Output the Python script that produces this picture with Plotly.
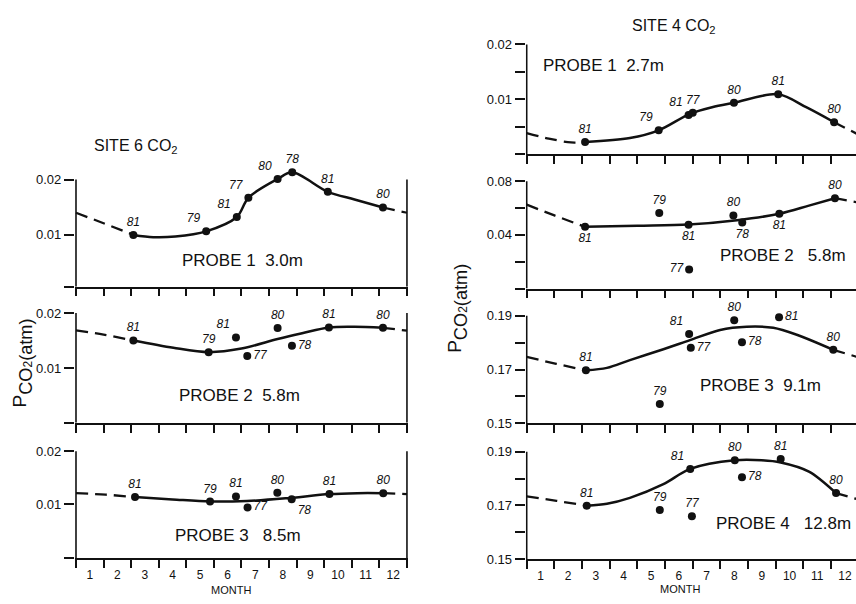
import plotly.graph_objects as go

W, H = 856, 604
FONT = "Liberation Sans, Arial, Helvetica, sans-serif"
INK = "#111111"

MONTH_LABELS = [str(m) for m in range(1, 13)]
MONTH_MID = [m - 0.5 for m in range(1, 13)]
MONTH_EDGE = list(range(13))

# ---------------- SITE 6 ----------------
S6_P1_X = [2.08, 4.72, 5.83, 6.25, 7.31, 7.84, 9.13, 11.13]
S6_P1_Y = [0.0100, 0.01064, 0.01323, 0.01671, 0.0201, 0.0213, 0.01778, 0.01495]
S6_P1_YR = ["81", "79", "81", "77", "80", "78", "81", "80"]
S6_P1_FIT_X = [2.08, 2.8, 3.6, 4.72, 5.83, 6.25, 7.31, 7.84, 9.13, 10.1, 11.13]
S6_P1_FIT_Y = [0.0100, 0.00958, 0.0097, 0.01064, 0.01323, 0.01671, 0.0201, 0.0213, 0.01778, 0.0164, 0.01495]
S6_P1_EXL_X = [0, 1.0, 2.08]
S6_P1_EXL_Y = [0.0140, 0.0121, 0.0100]
S6_P1_EXR_X = [11.13, 12]
S6_P1_EXR_Y = [0.01495, 0.0140]

S6_P2_X = [2.08, 4.81, 5.80, 6.21, 7.31, 7.83, 9.17, 11.13]
S6_P2_Y = [0.01506, 0.01294, 0.01559, 0.01224, 0.01728, 0.01411, 0.01740, 0.01734]
S6_P2_YR = ["81", "79", "81", "77", "80", "78", "81", "80"]
S6_P2_FIT_X = [2.08, 3.53, 4.81, 6.0, 7.31, 8.2, 9.17, 10.1, 11.13]
S6_P2_FIT_Y = [0.01506, 0.01374, 0.01294, 0.01358, 0.0153, 0.01635, 0.0174, 0.01752, 0.01734]
S6_P2_EXL_X = [0, 1.0, 2.08]
S6_P2_EXL_Y = [0.01688, 0.0161, 0.01506]
S6_P2_EXR_X = [11.13, 12]
S6_P2_EXR_Y = [0.01734, 0.01682]

S6_P3_X = [2.14, 4.86, 5.80, 6.22, 7.30, 7.82, 9.19, 11.14]
S6_P3_Y = [0.01134, 0.0105, 0.01147, 0.00939, 0.01215, 0.01092, 0.0119, 0.01208]
S6_P3_YR = ["81", "79", "81", "77", "80", "78", "81", "80"]
S6_P3_FIT_X = [2.14, 3.5, 4.86, 6.2, 7.6, 9.19, 10.2, 11.14]
S6_P3_FIT_Y = [0.01134, 0.0109, 0.0105, 0.0106, 0.0111, 0.0119, 0.01208, 0.01208]
S6_P3_EXL_X = [0, 1.07, 2.14]
S6_P3_EXL_Y = [0.01208, 0.0118, 0.01134]
S6_P3_EXR_X = [11.14, 12]
S6_P3_EXR_Y = [0.01208, 0.0119]

# ---------------- SITE 4 ----------------
S4_P1_X = [2.11, 4.77, 5.85, 6.0, 7.49, 9.09, 11.11]
S4_P1_Y = [0.00227, 0.0044, 0.0072, 0.0076, 0.00941, 0.01095, 0.00587]
S4_P1_YR = ["81", "79", "81", "77", "80", "81", "80"]
S4_P1_FIT_X = [2.11, 3.73, 4.77, 5.9, 6.7, 7.49, 9.09, 10.1, 11.11]
S4_P1_FIT_Y = [0.00227, 0.0030, 0.0044, 0.0074, 0.0086, 0.00941, 0.01095, 0.0086, 0.00587]
S4_P1_EXL_X = [0, 0.8, 1.6, 2.11]
S4_P1_EXL_Y = [0.0039, 0.0029, 0.0022, 0.00227]
S4_P1_EXR_X = [11.11, 12]
S4_P1_EXR_Y = [0.00587, 0.0036]

S4_P2_X = [2.11, 4.79, 5.85, 5.87, 7.47, 7.79, 9.13, 11.14]
S4_P2_Y = [0.046, 0.0562, 0.0475, 0.0143, 0.0545, 0.0492, 0.0557, 0.0673]
S4_P2_YR = ["81", "79", "81", "77", "80", "78", "81", "80"]
S4_P2_FIT_X = [2.11, 4.0, 5.85, 7.6, 9.13, 10.2, 11.14]
S4_P2_FIT_Y = [0.046, 0.0468, 0.0477, 0.0509, 0.0557, 0.0618, 0.0673]
S4_P2_EXL_X = [0, 1.0, 2.11]
S4_P2_EXL_Y = [0.0625, 0.0545, 0.046]
S4_P2_EXR_X = [11.14, 12]
S4_P2_EXR_Y = [0.0673, 0.0640]

S4_P3_X = [2.14, 4.81, 5.87, 5.93, 7.50, 7.78, 9.12, 11.08]
S4_P3_Y = [0.1697, 0.1572, 0.1832, 0.1781, 0.1883, 0.1801, 0.1894, 0.1773]
S4_P3_YR = ["81", "79", "81", "77", "80", "78", "81", "80"]
S4_P3_FIT_X = [2.14, 2.9, 3.73, 4.94, 5.9, 6.99, 7.95, 8.91, 9.76, 11.08]
S4_P3_FIT_Y = [0.1697, 0.1706, 0.1735, 0.1775, 0.1809, 0.1847, 0.1859, 0.1855, 0.1829, 0.1773]
S4_P3_EXL_X = [0, 1.07, 2.14]
S4_P3_EXL_Y = [0.1747, 0.1721, 0.1697]
S4_P3_EXR_X = [11.08, 12]
S4_P3_EXR_Y = [0.1773, 0.1745]

S4_P4_X = [2.17, 4.81, 5.91, 5.97, 7.52, 7.78, 9.18, 11.18]
S4_P4_Y = [0.1699, 0.1683, 0.1836, 0.1660, 0.1868, 0.1805, 0.1873, 0.1746]
S4_P4_YR = ["81", "79", "81", "77", "80", "78", "81", "80"]
S4_P4_FIT_X = [2.17, 2.9, 3.73, 4.94, 5.91, 7.52, 8.5, 9.18, 10.2, 11.18]
S4_P4_FIT_Y = [0.1699, 0.1706, 0.1728, 0.1779, 0.1836, 0.1868, 0.1868, 0.1860, 0.1826, 0.1746]
S4_P4_EXL_X = [0, 1.08, 2.17]
S4_P4_EXL_Y = [0.1734, 0.1717, 0.1699]
S4_P4_EXR_X = [11.18, 12]
S4_P4_EXR_Y = [0.1746, 0.1722]

# ---------------- styling / geometry (not data) ----------------
POS_S6_P1 = ["top center", "top left", "top left", "top left", "top left", "top center", "top center", "top center"]
POS_S6_P2 = ["top center", "top center", "top left", "middle right", "top center", "middle right", "top center", "top center"]
POS_S6_P3 = ["top center", "top center", "top center", "middle right", "top center", "bottom right", "top center", "top center"]
POS_S4_P1 = ["top center", "top left", "top left", "top center", "top center", "top center", "top center"]
POS_S4_P2 = ["bottom center", "top center", "bottom center", "middle left", "top center", "bottom center", "bottom center", "top center"]
POS_S4_P3 = ["top center", "top center", "top left", "middle right", "top center", "middle right", "middle right", "top center"]
POS_S4_P4 = ["top center", "top center", "top left", "top center", "top center", "middle right", "top center", "top center"]

PANELS = [
    dict(x=S6_P1_X, y=S6_P1_Y, yr=S6_P1_YR, pos=POS_S6_P1, fx=S6_P1_FIT_X, fy=S6_P1_FIT_Y,
         lx=S6_P1_EXL_X, ly=S6_P1_EXL_Y, rx=S6_P1_EXR_X, ry=S6_P1_EXR_Y,
         side="L", pix=(287.3, 160.1), yrange=[0.00065, 0.0231],
         tv=[0.00065, 0.01, 0.02], tt=[" ", "0.01", "0.02"], top=0.02, bottom_axis=False,
         label="PROBE 1\u00a0\u00a03.0m", lab_px=(242, 261)),
    dict(x=S6_P2_X, y=S6_P2_Y, yr=S6_P2_YR, pos=POS_S6_P2, fx=S6_P2_FIT_X, fy=S6_P2_FIT_Y,
         lx=S6_P2_EXL_X, ly=S6_P2_EXL_Y, rx=S6_P2_EXR_X, ry=S6_P2_EXR_Y,
         side="L", pix=(426.7, 311.5), yrange=[0.00018, 0.0205],
         tv=[0.00018, 0.01, 0.02], tt=[" ", "0.01", "0.02"], top=0.02, bottom_axis=False,
         label="PROBE 2\u00a0\u00a05.8m", lab_px=(240, 399)),
    dict(x=S6_P3_X, y=S6_P3_Y, yr=S6_P3_YR, pos=POS_S6_P3, fx=S6_P3_FIT_X, fy=S6_P3_FIT_Y,
         lx=S6_P3_EXL_X, ly=S6_P3_EXL_Y, rx=S6_P3_EXR_X, ry=S6_P3_EXR_Y,
         side="L", pix=(565.0, 453.0), yrange=[-0.00013, 0.0205],
         tv=[-0.00013, 0.01, 0.02], tt=[" ", "0.01", "0.02"], top=0.02, bottom_axis=True,
         label="PROBE 3\u00a0\u00a0 8.5m", lab_px=(238, 542)),
    dict(x=S4_P1_X, y=S4_P1_Y, yr=S4_P1_YR, pos=POS_S4_P1, fx=S4_P1_FIT_X, fy=S4_P1_FIT_Y,
         lx=S4_P1_EXL_X, ly=S4_P1_EXL_Y, rx=S4_P1_EXR_X, ry=S4_P1_EXR_Y,
         side="R", pix=(151.7, 36.5), yrange=[0.00007, 0.0205],
         tv=[0.00007, 0.005, 0.01, 0.015, 0.02], tt=[" ", " ", "0.01", " ", "0.02"], top=0.02, bottom_axis=False,
         label="PROBE 1\u00a0\u00a02.7m", lab_px=(603, 61)),
    dict(x=S4_P2_X, y=S4_P2_Y, yr=S4_P2_YR, pos=POS_S4_P2, fx=S4_P2_FIT_X, fy=S4_P2_FIT_Y,
         lx=S4_P2_EXL_X, ly=S4_P2_EXL_Y, rx=S4_P2_EXR_X, ry=S4_P2_EXR_Y,
         side="R", pix=(289.3, 176.55), yrange=[0.0, 0.082],
         tv=[0.0, 0.02, 0.04, 0.06, 0.08], tt=[" ", " ", "0.04", " ", "0.08"], top=0.08, bottom_axis=False,
         label="PROBE 2\u00a0\u00a0 5.8m", lab_px=(783, 255)),
    dict(x=S4_P3_X, y=S4_P3_Y, yr=S4_P3_YR, pos=POS_S4_P3, fx=S4_P3_FIT_X, fy=S4_P3_FIT_Y,
         lx=S4_P3_EXL_X, ly=S4_P3_EXL_Y, rx=S4_P3_EXR_X, ry=S4_P3_EXR_Y,
         side="R", pix=(427.3, 315.6), yrange=[0.15, 0.1905],
         tv=[0.15, 0.16, 0.17, 0.18, 0.19], tt=["0.15", " ", "0.17", " ", "0.19"], top=0.19, bottom_axis=False,
         label="PROBE 3\u00a0\u00a09.1m", lab_px=(760, 389)),
    dict(x=S4_P4_X, y=S4_P4_Y, yr=S4_P4_YR, pos=POS_S4_P4, fx=S4_P4_FIT_X, fy=S4_P4_FIT_Y,
         lx=S4_P4_EXL_X, ly=S4_P4_EXL_Y, rx=S4_P4_EXR_X, ry=S4_P4_EXR_Y,
         side="R", pix=(566.3, 454.9), yrange=[0.15, 0.1905],
         tv=[0.15, 0.16, 0.17, 0.18, 0.19], tt=["0.15", " ", "0.17", " ", "0.19"], top=0.19, bottom_axis=True,
         label="PROBE 4\u00a0\u00a0 12.8m", lab_px=(783, 530)),
]

# x geometry: pixel of month 0 and px per month
XGEOM = {"L": (76.0, 27.58, 12.04), "R": (526.7, 27.67, None)}
XPAD = 0.04

fig = go.Figure()
layout = dict(width=W, height=H, margin=dict(l=0, r=0, t=0, b=0), autosize=False,
              paper_bgcolor="white", plot_bgcolor="white", showlegend=False,
              font=dict(family=FONT, color=INK))
shapes, annotations = [], []

for i, p in enumerate(PANELS, start=1):
    xa, ya = f"x{i}", f"y{i}"
    x0px, ppm, xmax = XGEOM[p["side"]]
    xlo = -XPAD
    d0 = (x0px + xlo * ppm) / W
    if xmax is None:
        d1 = 1.0
        xmax = (W - x0px) / ppm
    else:
        d1 = (x0px + xmax * ppm) / W
    pb, pt = p["pix"]

    layout[f"xaxis{i}"] = dict(
        domain=[d0, d1], range=[xlo, xmax], anchor=ya, showgrid=False, zeroline=False,
        showline=True, linecolor=INK, linewidth=1.6,
        tickmode="array", tickvals=MONTH_MID, ticktext=MONTH_LABELS, ticks="",
        showticklabels=p["bottom_axis"], ticklabelstandoff=5,
        tickfont=dict(family=FONT, size=12, color=INK),
        minor=dict(tickmode="array", tickvals=MONTH_EDGE, ticks="outside", ticklen=8,
                   tickwidth=1.5, tickcolor=INK),
        fixedrange=True)
    layout[f"yaxis{i}"] = dict(
        domain=[1 - pb / H, 1 - pt / H], range=p["yrange"], anchor=xa, showgrid=False,
        zeroline=False, showline=False, tickmode="array", tickvals=p["tv"], ticktext=p["tt"],
        ticks="outside", ticklen=10, tickwidth=1.5, tickcolor=INK,
        tickfont=dict(family=FONT, size=13, color=INK), fixedrange=True)

    # spines
    shapes.append(dict(type="line", xref=xa, yref=ya, x0=0, x1=0, y0=p["yrange"][0], y1=p["top"],
                       line=dict(color=INK, width=1.6)))
    if p["side"] == "L":
        shapes.append(dict(type="line", xref=xa, yref=ya, x0=12, x1=12, y0=p["yrange"][0], y1=p["top"],
                           line=dict(color=INK, width=1.6)))

    dash = dict(color=INK, width=2.3, dash="12px,7px", shape="spline", smoothing=0.9)
    fig.add_trace(go.Scatter(x=p["lx"], y=p["ly"], mode="lines", line=dash, xaxis=xa, yaxis=ya, hoverinfo="skip"))
    fig.add_trace(go.Scatter(x=p["rx"], y=p["ry"], mode="lines", line=dash, xaxis=xa, yaxis=ya, hoverinfo="skip"))
    fig.add_trace(go.Scatter(x=p["fx"], y=p["fy"], mode="lines",
                             line=dict(color=INK, width=2.5, shape="spline", smoothing=0.9),
                             xaxis=xa, yaxis=ya, hoverinfo="skip"))
    fig.add_trace(go.Scatter(x=p["x"], y=p["y"], mode="markers+text", text=p["yr"],
                             textposition=p["pos"], cliponaxis=False,
                             marker=dict(color=INK, size=8),
                             textfont=dict(family=FONT, size=12, color=INK, style="italic"),
                             xaxis=xa, yaxis=ya))

    lx, ly = p["lab_px"]
    annotations.append(dict(xref="paper", yref="paper", x=lx / W, y=1 - ly / H, text=p["label"],
                            showarrow=False, xanchor="center", yanchor="middle",
                            font=dict(family=FONT, size=17, color=INK)))

# titles
annotations += [
    dict(xref="paper", yref="paper", x=136 / W, y=1 - 144 / H, text="SITE 6 CO<sub>2</sub>",
         showarrow=False, xanchor="center", yanchor="middle", font=dict(family=FONT, size=16, color=INK)),
    dict(xref="paper", yref="paper", x=674 / W, y=1 - 21 / H, text="SITE 4 CO<sub>2</sub>",
         showarrow=False, xanchor="center", yanchor="middle", font=dict(family=FONT, size=16, color=INK)),
    dict(xref="paper", yref="paper", x=231 / W, y=1 - 598 / H, text="MONTH",
         showarrow=False, xanchor="center", yanchor="middle", borderpad=0,
         font=dict(family=FONT, size=11, color=INK)),
    dict(xref="paper", yref="paper", x=680 / W, y=1 - 597 / H, text="MONTH",
         showarrow=False, xanchor="center", yanchor="middle", borderpad=0,
         font=dict(family=FONT, size=11, color=INK)),
]
YTITLE = ('<span style="font-size:19px">P</span><sub>CO'
          '<span style="font-size:12px">2</span>(atm)</sub>')
for (tx, ty) in [(22, 366), (457, 310)]:
    annotations.append(dict(xref="paper", yref="paper", x=tx / W, y=1 - ty / H, text=YTITLE,
                            textangle=-90, showarrow=False, xanchor="center", yanchor="middle",
                            font=dict(family=FONT, size=26, color=INK)))

layout["shapes"] = shapes
layout["annotations"] = annotations
fig.update_layout(**layout)
fig.write_html("out.html")
